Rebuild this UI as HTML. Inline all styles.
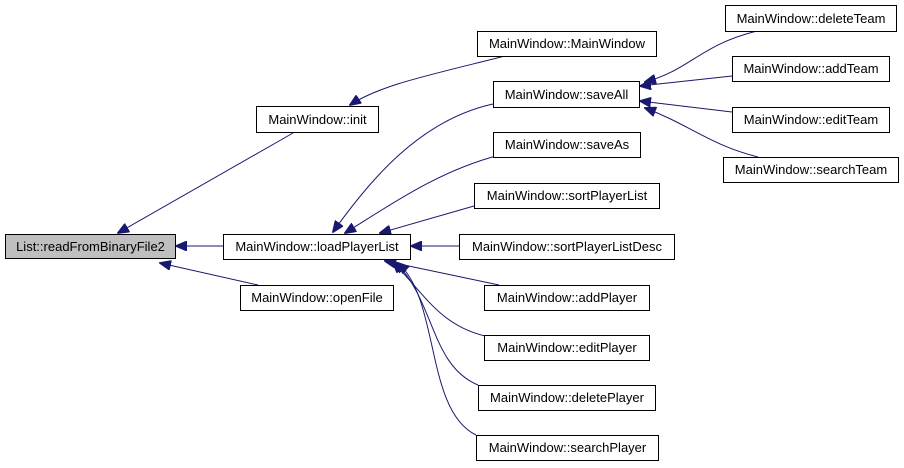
<!DOCTYPE html>
<html><head><meta charset="utf-8"><style>
html,body{margin:0;padding:0;background:#fff;width:904px;height:468px;overflow:hidden}
svg text{font-family:"Liberation Sans",sans-serif;font-size:13px;fill:#000}
</style></head><body>
<svg width="904" height="468" viewBox="0 0 904 468" xmlns="http://www.w3.org/2000/svg">
<defs>
<marker id="a" markerWidth="12" markerHeight="10" refX="11" refY="5" orient="auto" markerUnits="userSpaceOnUse">
<polygon points="0,0 12,5 0,10" fill="#191970" stroke="#191970"/>
</marker>
</defs>
<g fill="none" stroke="#191970" stroke-width="1" marker-end="url(#a)">
<path d="M293,133 L118,233"/>
<path d="M223,246 L176,246"/>
<path d="M258,285 L160,263"/>
<path d="M505,56 C430,75 380,85 350,105"/>
<path d="M493,104 C420,120 370,180 333,232"/>
<path d="M500,155 C440,170 390,205 345,233"/>
<path d="M474,206 L380,233"/>
<path d="M459,246 L411,246"/>
<path d="M499,285 L385,261"/>
<path d="M485,336 C440,325 425,295 393,262"/>
<path d="M478,385 C430,365 435,300 395,262"/>
<path d="M476,435 C425,410 440,300 398,263"/>
<path d="M757,31 C700,45 690,70 645,82"/>
<path d="M732,76 L640,86"/>
<path d="M732,112 L640,101"/>
<path d="M758,157 C710,145 690,125 645,108"/>
</g>
<g stroke="#000" stroke-width="1">
<rect x="5.5" y="234.5" width="170" height="24" fill="#bfbfbf"/>
<rect x="256.5" y="106.5" width="122" height="26" fill="#fff"/>
<rect x="223.5" y="234.5" width="187" height="25" fill="#fff"/>
<rect x="240.5" y="285.5" width="153" height="25" fill="#fff"/>
<rect x="477.5" y="31.5" width="179" height="25" fill="#fff"/>
<rect x="493.5" y="81.5" width="146" height="26" fill="#fff"/>
<rect x="493.5" y="132.5" width="147" height="25" fill="#fff"/>
<rect x="474.5" y="183.5" width="185" height="25" fill="#fff"/>
<rect x="459.5" y="234.5" width="215" height="25" fill="#fff"/>
<rect x="484.5" y="285.5" width="165" height="25" fill="#fff"/>
<rect x="484.5" y="335.5" width="165" height="25" fill="#fff"/>
<rect x="478.5" y="385.5" width="177" height="25" fill="#fff"/>
<rect x="476.5" y="435.5" width="182" height="25" fill="#fff"/>
<rect x="725.5" y="5.5" width="171" height="26" fill="#fff"/>
<rect x="732.5" y="56.5" width="157" height="25" fill="#fff"/>
<rect x="732.5" y="107.5" width="157" height="25" fill="#fff"/>
<rect x="723.5" y="157.5" width="175" height="25" fill="#fff"/>
</g>
<g text-anchor="middle">
<text x="90.5" y="251">List::readFromBinaryFile2</text>
<text x="317.5" y="124">MainWindow::init</text>
<text x="317" y="251">MainWindow::loadPlayerList</text>
<text x="317" y="302">MainWindow::openFile</text>
<text x="567" y="48">MainWindow::MainWindow</text>
<text x="566.5" y="99">MainWindow::saveAll</text>
<text x="567" y="149">MainWindow::saveAs</text>
<text x="567" y="200">MainWindow::sortPlayerList</text>
<text x="567" y="251">MainWindow::sortPlayerListDesc</text>
<text x="567" y="302">MainWindow::addPlayer</text>
<text x="567" y="352">MainWindow::editPlayer</text>
<text x="567" y="402">MainWindow::deletePlayer</text>
<text x="567.5" y="452">MainWindow::searchPlayer</text>
<text x="811" y="23">MainWindow::deleteTeam</text>
<text x="811" y="73">MainWindow::addTeam</text>
<text x="811" y="124">MainWindow::editTeam</text>
<text x="811" y="174">MainWindow::searchTeam</text>
</g>
</svg>
</body></html>
